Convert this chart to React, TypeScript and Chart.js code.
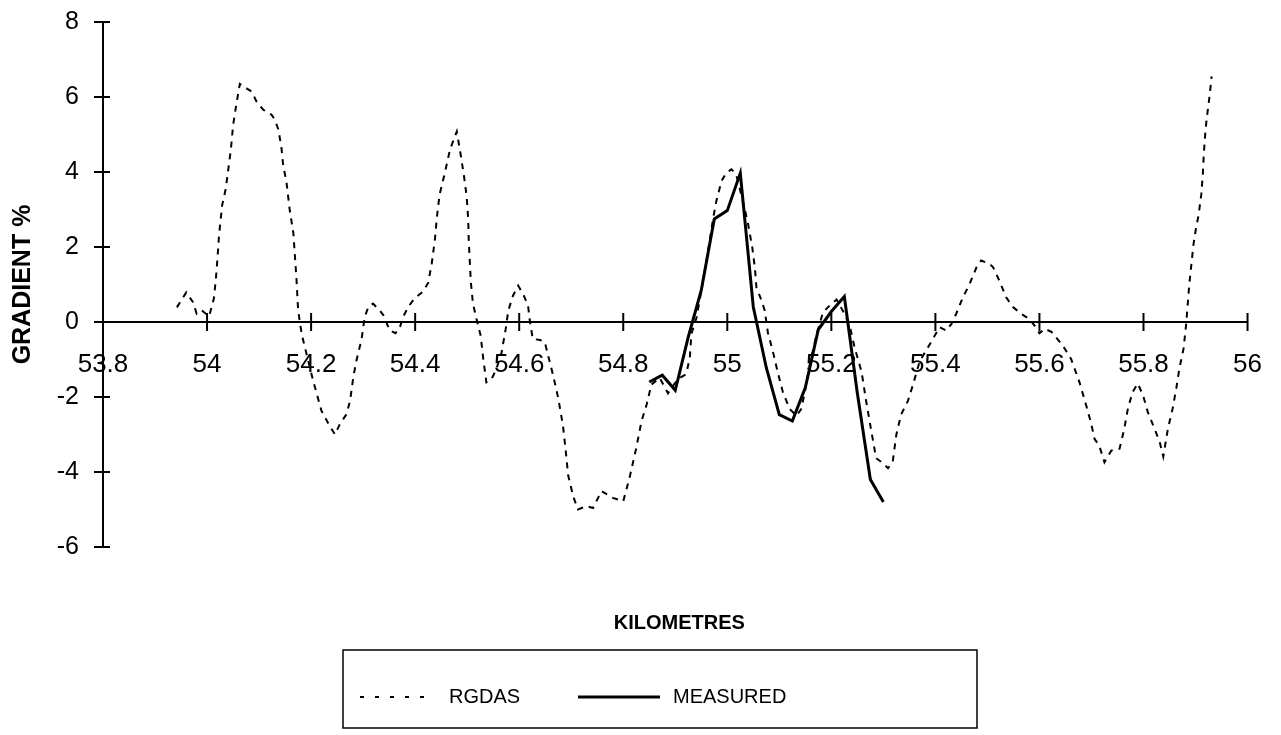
import React, { useEffect, useRef } from "react";
import { Chart, registerables } from "chart.js";

Chart.register(...registerables);

const xTickValues = [53.8, 54, 54.2, 54.4, 54.6, 54.8, 55, 55.2, 55.4, 55.6, 55.8, 56];
const xTickLabels = ["53.8", "54", "54.2", "54.4", "54.6", "54.8", "55", "55.2", "55.4", "55.6", "55.8", "56"];
const yTickValues = [-6, -4, -2, 0, 2, 4, 6, 8];
const yTickLabels = ["-6", "-4", "-2", "0", "2", "4", "6", "8"];

const xAxisTitle = "KILOMETRES";
const yAxisTitle = "GRADIENT %";
const seriesNames = ["RGDAS", "MEASURED"];

const rgdasKm = [
  53.942, 53.96, 53.973, 53.98, 53.99, 54.004, 54.013, 54.017, 54.02, 54.023, 54.029, 54.036, 54.041, 54.046,
  54.05, 54.056, 54.063, 54.076, 54.086, 54.095, 54.108, 54.124, 54.13, 54.137, 54.143, 54.146, 54.153, 54.159,
  54.166, 54.169, 54.172, 54.175, 54.182, 54.204, 54.22, 54.236, 54.246, 54.255, 54.268, 54.275, 54.281, 54.287,
  54.297, 54.303, 54.31, 54.319, 54.332, 54.339, 54.351, 54.362, 54.37, 54.377, 54.387, 54.399, 54.415, 54.425,
  54.432, 54.438, 54.442, 54.447, 54.457, 54.467, 54.48, 54.488, 54.494, 54.499, 54.502, 54.503, 54.505, 54.507,
  54.511, 54.518, 54.526, 54.531, 54.537, 54.547, 54.556, 54.566, 54.574, 54.579, 54.588, 54.598, 54.609, 54.617,
  54.62, 54.626, 54.64, 54.649, 54.665, 54.675, 54.684, 54.689, 54.694, 54.704, 54.713, 54.729, 54.742, 54.758,
  54.78, 54.8, 54.812, 54.825, 54.835, 54.845, 54.854, 54.87, 54.886, 54.905, 54.921, 54.928, 54.931, 54.941,
  54.95, 54.96, 54.966, 54.973, 54.979, 54.989, 54.998, 55.008, 55.017, 55.033, 55.04, 55.048, 55.053, 55.056,
  55.066, 55.072, 55.078, 55.088, 55.097, 55.107, 55.12, 55.133, 55.142, 55.149, 55.158, 55.171, 55.184, 55.197,
  55.21, 55.222, 55.235, 55.245, 55.258, 55.267, 55.277, 55.286, 55.299, 55.309, 55.318, 55.325, 55.334, 55.347,
  55.357, 55.37, 55.389, 55.408, 55.421, 55.431, 55.44, 55.453, 55.466, 55.479, 55.488, 55.504, 55.511, 55.523,
  55.536, 55.549, 55.565, 55.581, 55.591, 55.6, 55.61, 55.623, 55.645, 55.661, 55.677, 55.69, 55.699, 55.706,
  55.715, 55.725, 55.738, 55.754, 55.763, 55.77, 55.779, 55.789, 55.799, 55.808, 55.821, 55.831, 55.838, 55.847,
  55.856, 55.863, 55.869, 55.877, 55.882, 55.885, 55.888, 55.892, 55.896, 55.901, 55.906, 55.911, 55.914, 55.916,
  55.919, 55.922, 55.927, 55.931,
];
const rgdasGradient = [
  0.39, 0.79, 0.53, 0.22, 0.31, 0.15, 0.62, 1.15, 1.69, 2.31, 3.11, 3.56, 4.09, 4.63,
  5.24, 5.78, 6.35, 6.23, 6.14, 5.88, 5.66, 5.53, 5.4, 5.14, 4.65, 4.22, 3.69, 2.98,
  2.36, 1.74, 1.12, 0.32, -0.33, -1.57, -2.37, -2.78, -3.0, -2.73, -2.46, -2.1, -1.48, -1.04,
  -0.46, 0.13, 0.4, 0.49, 0.31, 0.18, -0.22, -0.3, -0.17, 0.14, 0.41, 0.63, 0.81, 1.04,
  1.57, 2.2, 2.82, 3.4, 3.97, 4.6, 5.08, 4.42, 3.88, 3.35, 2.73, 2.2, 1.62, 1.08,
  0.5, 0.08, -0.37, -0.99, -1.61, -1.52, -1.26, -0.82, -0.19, 0.3, 0.7, 0.97, 0.7, 0.44,
  0.08, -0.45, -0.48, -0.53, -1.41, -2.03, -2.75, -3.37, -4.08, -4.66, -5.0, -4.91, -4.96, -4.51,
  -4.69, -4.78, -4.16, -3.36, -2.65, -2.2, -1.67, -1.49, -1.9, -1.52, -1.39, -0.95, -0.32, 0.12,
  0.83, 1.63, 2.16, 2.78, 3.23, 3.76, 3.98, 4.07, 3.94, 3.05, 2.61, 1.99, 1.45, 0.92,
  0.57, 0.3, -0.28, -0.81, -1.34, -1.88, -2.32, -2.5, -2.32, -1.88, -1.17, -0.37, 0.26, 0.44,
  0.6, 0.3, -0.07, -0.7, -1.32, -2.12, -2.92, -3.63, -3.76, -3.9, -3.72, -3.0, -2.47, -2.11,
  -1.67, -1.04, -0.6, -0.14, -0.23, -0.05, 0.22, 0.66, 1.02, 1.46, 1.64, 1.55, 1.46, 1.1,
  0.66, 0.4, 0.22, 0.07, -0.1, -0.3, -0.18, -0.26, -0.63, -0.99, -1.61, -2.23, -2.68, -3.12,
  -3.3, -3.74, -3.43, -3.38, -2.85, -2.31, -1.87, -1.64, -1.95, -2.39, -2.84, -3.19, -3.59, -2.84,
  -2.31, -1.77, -1.24, -0.71, -0.06, 0.47, 1.0, 1.53, 2.06, 2.51, 2.86, 3.39, 3.93, 4.5,
  5.08, 5.48, 6.02, 6.55,
];

const measuredKm = [
  54.85, 54.875, 54.9, 54.925, 54.95, 54.975, 55.0, 55.025, 55.05, 55.075, 55.1, 55.125, 55.15, 55.175,
  55.2, 55.225, 55.25, 55.275, 55.3,
];
const measuredGradient = [
  -1.6, -1.42, -1.82, -0.4, 0.85, 2.75, 2.97, 3.97, 0.4, -1.22, -2.47, -2.64, -1.75, -0.2,
  0.28, 0.68, -1.9, -4.2, -4.8,
];

const FONT = '"Liberation Sans", Arial, sans-serif';

const decorPlugin = {
  id: "decor",
  afterDraw(chart: any) {
    const ctx = chart.ctx;
    const xs = chart.scales.x;
    const ys = chart.scales.y;
    const area = chart.chartArea;
    const y0 = ys.getPixelForValue(0);
    ctx.save();
    ctx.strokeStyle = "#000";
    ctx.fillStyle = "#000";
    ctx.lineWidth = 2;
    ctx.setLineDash([]);
    const line = (a: number, b: number, c: number, d: number) => {
      ctx.beginPath();
      ctx.moveTo(a, b);
      ctx.lineTo(c, d);
      ctx.stroke();
    };
    xTickValues.forEach((v) => {
      if (v === xTickValues[0]) return;
      const px = xs.getPixelForValue(v);
      line(px, y0 - 9, px, y0 + 9);
    });
    yTickValues.forEach((v) => {
      const py = ys.getPixelForValue(v);
      line(area.left - 9, py, area.left + 7, py);
    });

    // x axis title
    ctx.font = `bold 20px ${FONT}`;
    ctx.textAlign = "center";
    ctx.textBaseline = "middle";
    ctx.fillText(xAxisTitle, (area.left + area.right) / 2 + 4, area.bottom + 76);

    // legend box
    const bx = area.left + 240;
    const by = area.bottom + 103;
    const bw = 634;
    const bh = 78;
    ctx.lineWidth = 1.5;
    ctx.strokeRect(bx, by, bw, bh);
    const ly = by + 47;
    const ds = chart.data.datasets;
    ctx.font = `20px ${FONT}`;
    ctx.textAlign = "left";
    ctx.lineWidth = ds[0].borderWidth;
    ctx.setLineDash([4, 11]);
    line(bx + 17, ly, bx + 91, ly);
    ctx.setLineDash([]);
    ctx.fillText(ds[0].label, bx + 106, ly);
    ctx.lineWidth = ds[1].borderWidth;
    line(bx + 235, ly, bx + 317, ly);
    ctx.fillText(ds[1].label, bx + 330, ly);
    ctx.restore();
  },
};

export default function App() {
  const ref = useRef<HTMLCanvasElement | null>(null);

  useEffect(() => {
    const canvas = ref.current;
    if (!canvas) return;
    const chart = new Chart(canvas, {
      type: "line",
      data: {
        datasets: [
          {
            label: seriesNames[0],
            data: rgdasKm.map((x, i) => ({ x, y: rgdasGradient[i] })),
            borderColor: "#000",
            borderWidth: 2,
            borderDash: [6, 6],
            pointRadius: 0,
            tension: 0,
            fill: false,
          },
          {
            label: seriesNames[1],
            data: measuredKm.map((x, i) => ({ x, y: measuredGradient[i] })),
            borderColor: "#000",
            borderWidth: 3,
            pointRadius: 0,
            tension: 0,
            fill: false,
          },
        ],
      },
      options: {
        animation: false,
        responsive: false,
        devicePixelRatio: 1,
        layout: { padding: { left: 0, top: 22, right: 24, bottom: 188 } },
        plugins: {
          legend: { display: false },
          tooltip: { enabled: false },
        },
        scales: {
          x: {
            type: "linear",
            min: 53.8,
            max: 56,
            position: { y: 0 },
            afterBuildTicks: (s: any) => {
              s.ticks = xTickValues.map((v) => ({ value: v }));
            },
            ticks: {
              autoSkip: false,
              maxRotation: 0,
              padding: 19,
              color: "#000",
              font: { family: FONT, size: 26 },
              callback: (_v: any, i: number) => xTickLabels[i],
            },
            grid: { display: false },
            border: { display: true, color: "#000", width: 2 },
          },
          y: {
            type: "linear",
            min: -6,
            max: 8,
            position: "left",
            afterFit: (s: any) => {
              s.width = 103;
              s.paddingTop = 0;
              s.paddingBottom = 0;
            },
            afterBuildTicks: (s: any) => {
              s.ticks = yTickValues.map((v) => ({ value: v }));
            },
            ticks: {
              padding: 16,
              color: "#000",
              font: { family: FONT, size: 25 },
              callback: (_v: any, i: number) => yTickLabels[i],
            },
            grid: { display: false },
            border: { display: true, color: "#000", width: 2 },
            title: {
              display: true,
              text: yAxisTitle,
              color: "#000",
              font: { family: FONT, size: 25, weight: "bold" },
              padding: { top: 8, bottom: 0 },
            },
          },
        },
      },
      plugins: [decorPlugin],
    });
    return () => chart.destroy();
  }, []);

  return (
    <div style={{ position: "absolute", left: 0, top: 0, width: 1281, height: 735, background: "#fff" }}>
      <canvas ref={ref} width={1281} height={735} style={{ display: "block" }} />
    </div>
  );
}
